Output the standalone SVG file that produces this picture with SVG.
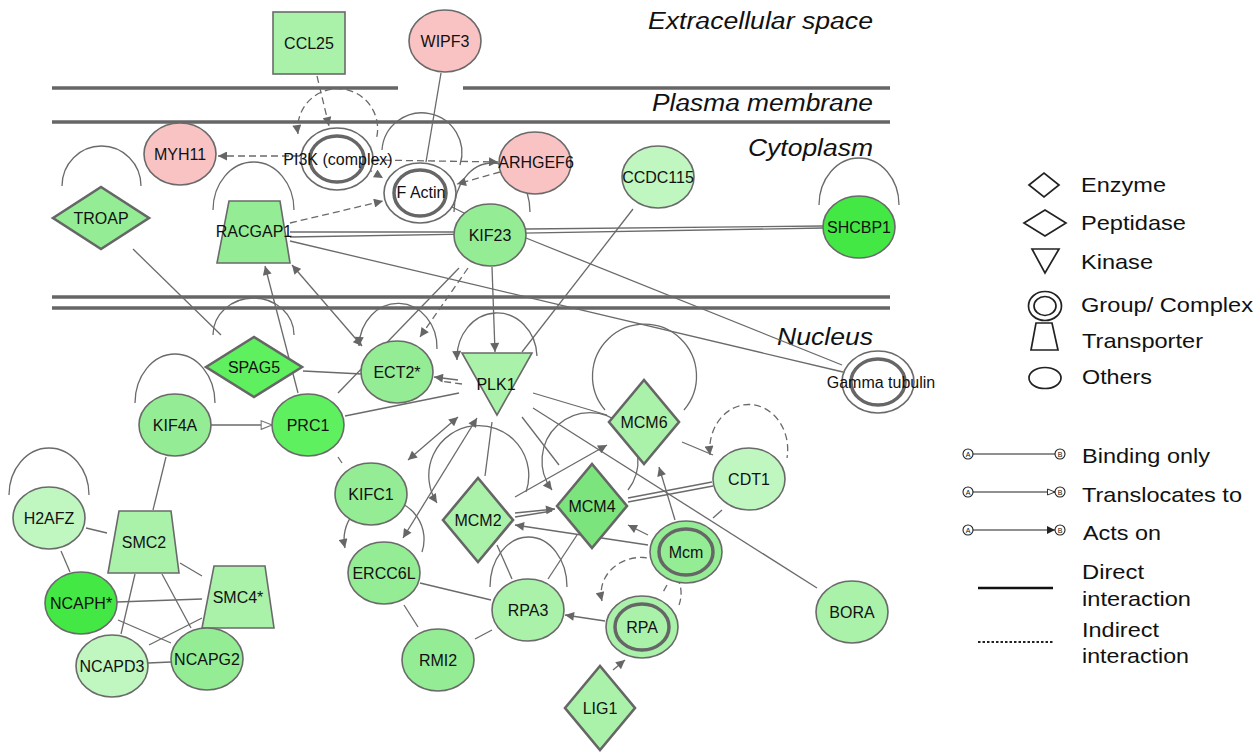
<svg xmlns="http://www.w3.org/2000/svg" width="1260" height="752" viewBox="0 0 1260 752">
<defs>
<marker id="ah" viewBox="0 0 10 10" refX="10" refY="5" markerWidth="10" markerHeight="9" markerUnits="userSpaceOnUse" orient="auto-start-reverse"><path d="M0,0 L10,5 L0,10 z" fill="#666"/></marker>
<marker id="oh" viewBox="0 0 12 10" refX="11" refY="5" markerWidth="13" markerHeight="11" markerUnits="userSpaceOnUse" orient="auto"><path d="M1,1 L11,5 L1,9 z" fill="#fff" stroke="#777" stroke-width="1"/></marker>
<marker id="lah" viewBox="0 0 10 10" refX="10" refY="5" markerWidth="8" markerHeight="8" markerUnits="userSpaceOnUse" orient="auto"><path d="M0,0 L10,5 L0,10 z" fill="#222"/></marker>
<marker id="loh" viewBox="0 0 12 10" refX="11" refY="5" markerWidth="9" markerHeight="8" markerUnits="userSpaceOnUse" orient="auto"><path d="M1,1 L11,5 L1,9 z" fill="#fff" stroke="#222" stroke-width="1.2"/></marker>
</defs>
<style>
.mem{stroke:#666;stroke-width:3.5;fill:none}
.e{stroke:#6a6a6a;stroke-width:1.3;fill:none}
.d{stroke:#6a6a6a;stroke-width:1.3;fill:none;stroke-dasharray:7 4}
.n{stroke:#6a6a6a;stroke-width:1.6}
.dm{stroke:#666;stroke-width:2.6}
.ring{fill:none;stroke:#666;stroke-width:3.5}
.c1{fill:#c0f7c0}.c2{fill:#aaf2aa}.c3{fill:#94ec94}.c4{fill:#7ce47c}.c5{fill:#5ef05e}.c6{fill:#44e844}.pk{fill:#f9c3c3}.wh{fill:#fff}
text{font-family:"Liberation Sans",Arial,sans-serif;fill:#111}
.t{font-size:16px;text-anchor:middle}
.reg{font-size:23px;font-style:italic}
.lg{font-size:21px}
.ls{fill:#fff;stroke:#222;stroke-width:1.7}
</style>
<rect width="1260" height="752" fill="#fff"/>
<g id="membranes">
<line class="mem" x1="52" y1="88" x2="398" y2="88"/>
<line class="mem" x1="463" y1="88" x2="890" y2="88"/>
<line class="mem" x1="52" y1="122" x2="890" y2="122"/>
<line class="mem" x1="52" y1="297" x2="890" y2="297"/>
<line class="mem" x1="52" y1="308" x2="890" y2="308"/>
<text class="reg" x="648" y="29" textLength="225" lengthAdjust="spacingAndGlyphs">Extracellular space</text>
<text class="reg" x="652" y="111" textLength="221" lengthAdjust="spacingAndGlyphs">Plasma membrane</text>
<text class="reg" x="748" y="156" textLength="125" lengthAdjust="spacingAndGlyphs">Cytoplasm</text>
<text class="reg" x="777" y="345" textLength="96" lengthAdjust="spacingAndGlyphs">Nucleus</text>
</g>
<g id="connectors">
<!-- self loops -->
<path class="e" d="M62 186 A 39.5 40 0 1 1 141 186"/>
<path class="e" d="M213 210 A 40.5 48 0 1 1 294 210"/>
<path class="e" d="M819 205 A 40 47 0 1 1 899 205"/>
<path class="e" d="M382 150 A 40 40 0 1 1 460 165"/>
<path class="e" d="M454 212 A 38 49 0 1 1 530 212"/>
<path class="e" d="M213 335 A 40.5 37 0 1 1 294 335"/>
<path class="e" d="M135 403 A 40 49 0 1 1 215 403"/>
<path class="e" d="M9 495 A 40 47 0 1 1 89 495"/>
<path class="e" d="M359 346 A 39 44 0 1 1 437 349" marker-start="url(#ah)"/>
<path class="e" d="M457 360 A 40 45 0 1 1 537 356" marker-start="url(#ah)"/>
<path class="e" d="M605 410 A 52 52 0 1 1 684 410"/>
<path class="e" d="M552 490 A 48 48 0 1 1 628 490" marker-start="url(#ah)"/>
<path class="e" d="M437 503 A 50 50 0 1 1 526 492" marker-start="url(#ah)"/>
<path class="e" d="M345 548 A 40 40 0 1 1 422 552" marker-start="url(#ah)"/>
<path class="e" d="M490 587 A 38.5 50 0 1 1 567 587"/>
<path class="d" d="M602 601 A 40 36 0 1 1 679 605" marker-start="url(#ah)"/>
<path class="d" d="M710 455 A 39 45 0 1 1 787 458" marker-start="url(#ah)"/>
<path class="d" d="M298 134 A 40 40 0 1 1 376 140" marker-start="url(#ah)"/>
<!-- top area -->
<path class="d" d="M317 76 L329 126" marker-end="url(#ah)"/>
<path class="d" d="M300 156 L218 156" marker-end="url(#ah)"/>
<path class="d" d="M373 160 L498 162" marker-end="url(#ah)"/>
<path class="d" d="M366 168 L383 178" marker-end="url(#ah)"/>
<path class="d" d="M290 223 L383 201" marker-end="url(#ah)"/>
<path class="d" d="M500 172 L457 184" marker-end="url(#ah)"/>
<path class="e" d="M441 73 L426 162"/>
<path class="e" d="M452 207 L464 213"/>
<path class="e" d="M290 232 L454 232"/>
<path class="e" d="M290 237 L823 228"/>
<path class="e" d="M526 229 L823 226"/>
<path class="e" d="M290 241 L843 372"/>
<path class="e" d="M526 238 L842 365"/>
<path class="e" d="M492 267 L495 352" marker-end="url(#ah)"/>
<path class="e" d="M459 268 L338 393"/>
<path class="d" d="M468 268 L420 337" marker-end="url(#ah)"/>
<path class="e" d="M292 265 L362 346" marker-start="url(#ah)" marker-end="url(#ah)"/>
<path class="e" d="M298 393 L265 266" marker-end="url(#ah)"/>
<path class="e" d="M133 249 L221 335"/>
<path class="e" d="M303 371 L362 374"/>
<path class="e" d="M345 416 L459 393"/>
<path class="e" d="M458 380 L434 377" marker-end="url(#ah)"/>
<path class="d" d="M462 384 L440 381"/>
<path class="e" d="M633 209 L522 352"/>
<path class="e" d="M211 425 L272 425" marker-end="url(#oh)"/>
<path class="e" d="M166 457 L153 510"/>
<path class="e" d="M338 457 L342 463"/>
<path class="e" d="M408 460 L458 417" marker-start="url(#ah)" marker-end="url(#ah)"/>
<path class="e" d="M403 538 L477 418" marker-start="url(#ah)" marker-end="url(#ah)"/>
<path class="e" d="M492 422 L485 476"/>
<path class="e" d="M522 417 L559 465"/>
<path class="e" d="M533 393 L607 415"/>
<path class="e" d="M533 408 L817 588"/>
<path class="e" d="M515 497 L607 445" marker-end="url(#ah)"/>
<path class="e" d="M515 513 L555 509" marker-end="url(#ah)"/>
<path class="e" d="M515 517 L552 511"/>
<path class="e" d="M628 498 L712 482"/>
<path class="e" d="M628 502 L713 486"/>
<path class="e" d="M648 545 L515 525" marker-end="url(#ah)"/>
<path class="e" d="M648 535 L628 525" marker-end="url(#ah)"/>
<path class="e" d="M675 520 L659 467" marker-end="url(#ah)"/>
<path class="e" d="M713 518 L722 510"/>
<path class="e" d="M682 442 L713 455"/>
<path class="d" d="M667 585 L662 594"/>
<path class="e" d="M605 621 L565 615" marker-end="url(#ah)"/>
<path class="e" d="M613 670 L625 660" marker-end="url(#ah)"/>
<path class="e" d="M420 583 L491 600"/>
<path class="e" d="M475 639 L492 630"/>
<path class="e" d="M404 605 L418 627"/>
<path class="e" d="M497 545 L512 579"/>
<path class="e" d="M577 535 L548 579"/>
<!-- SMC cluster -->
<path class="e" d="M86 528 L107 533"/>
<path class="e" d="M61 551 L70 572"/>
<path class="e" d="M180 563 L202 576"/>
<path class="e" d="M135 574 L121 634"/>
<path class="e" d="M162 574 L191 628"/>
<path class="e" d="M117 602 L202 599"/>
<path class="e" d="M118 620 L171 643"/>
<path class="e" d="M149 645 L202 618"/>
<path class="e" d="M148 663 L171 662"/>
</g>
<g id="CCL25"><rect class="n c2" x="273" y="12" width="72" height="62"/><text class="t" x="309" y="49">CCL25</text></g>
<g id="WIPF3"><ellipse class="n pk" cx="445" cy="41" rx="36" ry="31"/><text class="t" x="445" y="47">WIPF3</text></g>
<g id="MYH11"><ellipse class="n pk" cx="180" cy="154" rx="36" ry="31"/><text class="t" x="180" y="160">MYH11</text></g>
<g id="PI3K"><ellipse class="n wh" cx="337" cy="159" rx="36" ry="31" stroke-width="1.3"/><ellipse class="ring" cx="337" cy="159" rx="27" ry="23"/><text class="t" x="338" y="165">PI3K (complex)</text></g>
<g id="FActin"><ellipse class="n wh" cx="420" cy="193" rx="36" ry="30" stroke-width="1.3"/><ellipse class="ring" cx="420" cy="193" rx="26" ry="23"/><text class="t" x="421" y="198">F Actin</text></g>
<g id="ARHGEF6"><ellipse class="n pk" cx="535" cy="163" rx="36" ry="31"/><text class="t" x="536" y="168">ARHGEF6</text></g>
<g id="CCDC115"><ellipse class="n c1" cx="658" cy="177" rx="36" ry="31"/><text class="t" x="658" y="183">CCDC115</text></g>
<g id="SHCBP1"><ellipse class="n c6" cx="859" cy="227" rx="36" ry="31"/><text class="t" x="859" y="233">SHCBP1</text></g>
<g id="KIF23"><ellipse class="n c3" cx="490" cy="235" rx="36" ry="31"/><text class="t" x="490" y="241">KIF23</text></g>
<g id="TROAP"><polygon class="dm c3" points="53,218 101,187 149,218 101,249"/><text class="t" x="101" y="224">TROAP</text></g>
<g id="RACGAP1"><polygon class="n c3" points="229,201 280,201 290,263 217,263"/><text class="t" x="254" y="237">RACGAP1</text></g>
<g id="SPAG5"><polygon class="dm c5" points="206,367 254,337 302,367 254,397"/><text class="t" x="254" y="373">SPAG5</text></g>
<g id="KIF4A"><ellipse class="n c3" cx="175" cy="425" rx="36" ry="31"/><text class="t" x="175" y="431">KIF4A</text></g>
<g id="PRC1"><ellipse class="n c5" cx="308" cy="425" rx="36" ry="31"/><text class="t" x="308" y="431">PRC1</text></g>
<g id="ECT2"><ellipse class="n c3" cx="397" cy="372" rx="36" ry="31"/><text class="t" x="397" y="378">ECT2*</text></g>
<g id="PLK1"><polygon class="n c2" points="462,353 532,353 497,415"/><text class="t" x="496" y="390">PLK1</text></g>
<g id="GammaTubulin"><ellipse class="n wh" cx="878" cy="382" rx="36" ry="31" stroke-width="1.3"/><ellipse class="ring" cx="878" cy="382" rx="27" ry="23"/><text class="t" x="881" y="388" font-size="15">Gamma tubulin</text></g>
<g id="MCM6"><polygon class="dm c2" points="609,422 644,380 679,422 644,464"/><text class="t" x="644" y="428">MCM6</text></g>
<g id="MCM4"><polygon class="dm c4" points="557,506 592,464 627,506 592,548"/><text class="t" x="592" y="512">MCM4</text></g>
<g id="MCM2"><polygon class="dm c2" points="443,520 478,478 513,520 478,562"/><text class="t" x="478" y="526">MCM2</text></g>
<g id="CDT1"><ellipse class="n c1" cx="749" cy="479" rx="36" ry="31"/><text class="t" x="749" y="485">CDT1</text></g>
<g id="Mcm"><ellipse class="n c3" cx="686" cy="552" rx="36" ry="31"/><ellipse class="ring" cx="686" cy="552" rx="27" ry="23"/><text class="t" x="686" y="558">Mcm</text></g>
<g id="RPA"><ellipse class="n c2" cx="642" cy="627" rx="36" ry="31"/><ellipse class="ring" cx="642" cy="627" rx="27" ry="23"/><text class="t" x="642" y="633">RPA</text></g>
<g id="BORA"><ellipse class="n c2" cx="852" cy="612" rx="36" ry="31"/><text class="t" x="852" y="618">BORA</text></g>
<g id="KIFC1"><ellipse class="n c3" cx="371" cy="494" rx="36" ry="31"/><text class="t" x="371" y="500">KIFC1</text></g>
<g id="ERCC6L"><ellipse class="n c3" cx="384" cy="573" rx="36" ry="31"/><text class="t" x="384" y="579">ERCC6L</text></g>
<g id="RPA3"><ellipse class="n c2" cx="528" cy="610" rx="36" ry="31"/><text class="t" x="528" y="616">RPA3</text></g>
<g id="RMI2"><ellipse class="n c3" cx="438" cy="660" rx="36" ry="31"/><text class="t" x="438" y="666">RMI2</text></g>
<g id="LIG1"><polygon class="dm c2" points="565,708 600,666 635,708 600,750"/><text class="t" x="600" y="714">LIG1</text></g>
<g id="H2AFZ"><ellipse class="n c1" cx="49" cy="518" rx="36" ry="31"/><text class="t" x="49" y="524">H2AFZ</text></g>
<g id="SMC2"><polygon class="n c2" points="119,511 171,511 179,573 108,573"/><text class="t" x="144" y="548">SMC2</text></g>
<g id="SMC4"><polygon class="n c2" points="214,566 265,566 274,628 202,628"/><text class="t" x="238" y="603">SMC4*</text></g>
<g id="NCAPH"><ellipse class="n c6" cx="81" cy="603" rx="36" ry="31"/><text class="t" x="81" y="609">NCAPH*</text></g>
<g id="NCAPD3"><ellipse class="n c1" cx="112" cy="666" rx="36" ry="31"/><text class="t" x="112" y="672">NCAPD3</text></g>
<g id="NCAPG2"><ellipse class="n c3" cx="207" cy="659" rx="36" ry="31"/><text class="t" x="207" y="665">NCAPG2</text></g>
<g id="legend">
<polygon class="ls" points="1029,185 1044,173 1059,185 1044,197"/>
<text class="lg" x="1081" y="192" textLength="85" lengthAdjust="spacingAndGlyphs">Enzyme</text>
<polygon class="ls" points="1024,223 1045,210 1066,223 1045,236"/>
<text class="lg" x="1081" y="230" textLength="105" lengthAdjust="spacingAndGlyphs">Peptidase</text>
<polygon class="ls" points="1032,249 1059,249 1045,273"/>
<text class="lg" x="1081" y="269" textLength="72" lengthAdjust="spacingAndGlyphs">Kinase</text>
<ellipse class="ls" cx="1045" cy="306" rx="16.5" ry="14.5"/><ellipse class="ls" cx="1045" cy="306" rx="11" ry="9.5" stroke-width="2.2"/>
<text class="lg" x="1081" y="312" textLength="172" lengthAdjust="spacingAndGlyphs">Group/ Complex</text>
<polygon class="ls" points="1036,323 1052,323 1058,350 1031,350"/>
<text class="lg" x="1082" y="348" textLength="121" lengthAdjust="spacingAndGlyphs">Transporter</text>
<ellipse class="ls" cx="1045" cy="378" rx="16" ry="10.5" stroke-width="3"/>
<text class="lg" x="1082" y="384" textLength="70" lengthAdjust="spacingAndGlyphs">Others</text>
<g stroke="#222" stroke-width="1.1" fill="#fff">
<line x1="973" y1="454" x2="1055" y2="454"/><circle cx="968" cy="454" r="5"/><circle cx="1060" cy="454" r="5"/>
<line x1="973" y1="492" x2="1055" y2="492" marker-end="url(#loh)"/><circle cx="968" cy="492" r="5"/><circle cx="1060" cy="492" r="5"/>
<line x1="973" y1="530" x2="1055" y2="530" marker-end="url(#lah)"/><circle cx="968" cy="530" r="5"/><circle cx="1060" cy="530" r="5"/>
</g>
<g font-size="7" text-anchor="middle">
<text x="968" y="456.5">A</text><text x="1060" y="456.5">B</text>
<text x="968" y="494.5">A</text><text x="1060" y="494.5">B</text>
<text x="968" y="532.5">A</text><text x="1060" y="532.5">B</text>
</g>
<text class="lg" x="1082" y="463" textLength="128" lengthAdjust="spacingAndGlyphs">Binding only</text>
<text class="lg" x="1082" y="502" textLength="160" lengthAdjust="spacingAndGlyphs">Translocates to</text>
<text class="lg" x="1083" y="540" textLength="78" lengthAdjust="spacingAndGlyphs">Acts on</text>
<line x1="978" y1="588" x2="1053" y2="588" stroke="#111" stroke-width="2.5"/>
<text class="lg" x="1082" y="579" textLength="62" lengthAdjust="spacingAndGlyphs">Direct</text>
<text class="lg" x="1082" y="606" textLength="109" lengthAdjust="spacingAndGlyphs">interaction</text>
<line x1="978" y1="642" x2="1053" y2="642" stroke="#222" stroke-width="2" stroke-dasharray="2.5 2"/>
<text class="lg" x="1082" y="637" textLength="77" lengthAdjust="spacingAndGlyphs">Indirect</text>
<text class="lg" x="1082" y="663" textLength="107" lengthAdjust="spacingAndGlyphs">interaction</text>
</g>
</svg>
